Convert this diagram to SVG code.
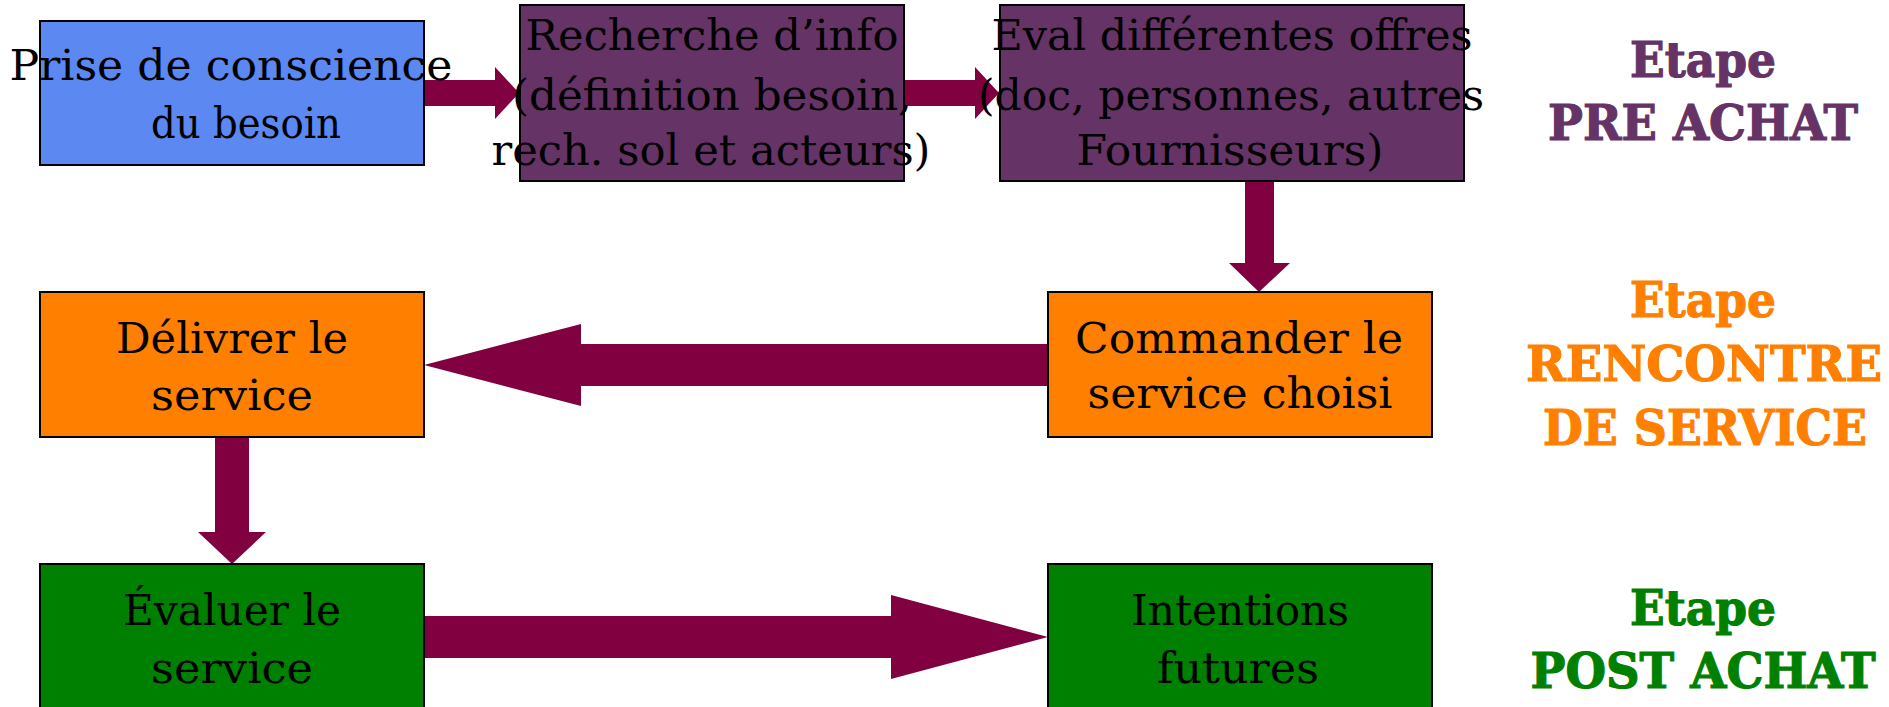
<svg xmlns="http://www.w3.org/2000/svg" width="1889" height="707" viewBox="0 0 1889 707">
  <style>
    .box { stroke: #000; stroke-width: 2; }
    .blue { fill: #5B88F1; }
    .purple { fill: #663366; }
    .orange { fill: #FF8000; }
    .green { fill: #008000; }
    .lbl { font-family: "DejaVu Serif", "Liberation Serif", serif; font-size: 42px; fill: #000; text-anchor: middle; }
    .stage { font-family: "DejaVu Serif", "Liberation Serif", serif; font-size: 49px; font-weight: bold; text-anchor: middle; stroke-width: 1.2; }
    .arrow { fill: #800040; }
  </style>

  <!-- connectors: block arrows between the steps -->
  <g id="connectors">
    <polygon class="arrow" points="424,80 495,80 495,67 519,93 495,119 495,106 424,106"/>
    <polygon class="arrow" points="904,80 975,80 975,67 999,93 975,119 975,106 904,106"/>
    <polygon class="arrow" points="1245,181 1274,181 1274,263 1290,263 1259,292 1229,263 1245,263"/>
    <polygon class="arrow" points="1048,344 581,344 581,324 424,365 581,406 581,386 1048,386"/>
    <polygon class="arrow" points="215,437 249,437 249,532 266,532 232,564 198,532 215,532"/>
    <polygon class="arrow" points="424,616 891,616 891,595 1048,637 891,679 891,658 424,658"/>
  </g>

  <g id="node-prise">
    <rect class="box blue" x="40" y="21" width="384" height="144"/>
    <text class="lbl" x="231" y="80" textLength="443" lengthAdjust="spacingAndGlyphs">Prise de conscience</text>
    <text class="lbl" x="246" y="138" textLength="190" lengthAdjust="spacingAndGlyphs">du besoin</text>
  </g>

  <g id="node-recherche">
    <rect class="box purple" x="520" y="5" width="384" height="176"/>
    <text class="lbl" x="712" y="50" textLength="373" lengthAdjust="spacingAndGlyphs">Recherche d’info</text>
    <text class="lbl" x="712" y="110" textLength="400" lengthAdjust="spacingAndGlyphs">(définition besoin,</text>
    <text class="lbl" x="711" y="165" textLength="439" lengthAdjust="spacingAndGlyphs">rech. sol et  acteurs)</text>
  </g>

  <g id="node-eval-offres">
    <rect class="box purple" x="1000" y="5" width="464" height="176"/>
    <text class="lbl" x="1232" y="50" textLength="481" lengthAdjust="spacingAndGlyphs">Eval différentes offres</text>
    <text class="lbl" x="1231" y="110" textLength="506" lengthAdjust="spacingAndGlyphs">(doc, personnes, autres</text>
    <text class="lbl" x="1230" y="165" textLength="307" lengthAdjust="spacingAndGlyphs">Fournisseurs)</text>
  </g>

  <g id="node-delivrer">
    <rect class="box orange" x="40" y="292" width="384" height="145"/>
    <text class="lbl" x="232" y="353" textLength="232" lengthAdjust="spacingAndGlyphs">Délivrer le</text>
    <text class="lbl" x="232" y="410" textLength="162" lengthAdjust="spacingAndGlyphs">service</text>
  </g>

  <g id="node-commander">
    <rect class="box orange" x="1048" y="292" width="384" height="145"/>
    <text class="lbl" x="1239" y="353" textLength="328" lengthAdjust="spacingAndGlyphs">Commander le</text>
    <text class="lbl" x="1240" y="408" textLength="305" lengthAdjust="spacingAndGlyphs">service choisi</text>
  </g>

  <g id="node-evaluer">
    <rect class="box green" x="40" y="564" width="384" height="160"/>
    <text class="lbl" x="232" y="625" textLength="218" lengthAdjust="spacingAndGlyphs">Évaluer le</text>
    <text class="lbl" x="232" y="683" textLength="162" lengthAdjust="spacingAndGlyphs">service</text>
  </g>

  <g id="node-intentions">
    <rect class="box green" x="1048" y="564" width="384" height="160"/>
    <text class="lbl" x="1240" y="625" textLength="218" lengthAdjust="spacingAndGlyphs">Intentions</text>
    <text class="lbl" x="1238" y="683" textLength="162" lengthAdjust="spacingAndGlyphs">futures</text>
  </g>

  <!-- stage captions on the right -->
  <g id="stage-pre-achat" fill="#663366" stroke="#663366">
    <text class="stage" x="1703" y="77" textLength="146" lengthAdjust="spacingAndGlyphs">Etape</text>
    <text class="stage" x="1703" y="140" textLength="310" lengthAdjust="spacingAndGlyphs">PRE ACHAT</text>
  </g>
  <g id="stage-rencontre" fill="#FF8000" stroke="#FF8000">
    <text class="stage" x="1703" y="317" textLength="146" lengthAdjust="spacingAndGlyphs">Etape</text>
    <text class="stage" x="1704" y="381" textLength="356" lengthAdjust="spacingAndGlyphs">RENCONTRE</text>
    <text class="stage" x="1705" y="445" textLength="324" lengthAdjust="spacingAndGlyphs">DE SERVICE</text>
  </g>
  <g id="stage-post-achat" fill="#008000" stroke="#008000">
    <text class="stage" x="1703" y="625" textLength="146" lengthAdjust="spacingAndGlyphs">Etape</text>
    <text class="stage" x="1703" y="688" textLength="345" lengthAdjust="spacingAndGlyphs">POST ACHAT</text>
  </g>
</svg>
